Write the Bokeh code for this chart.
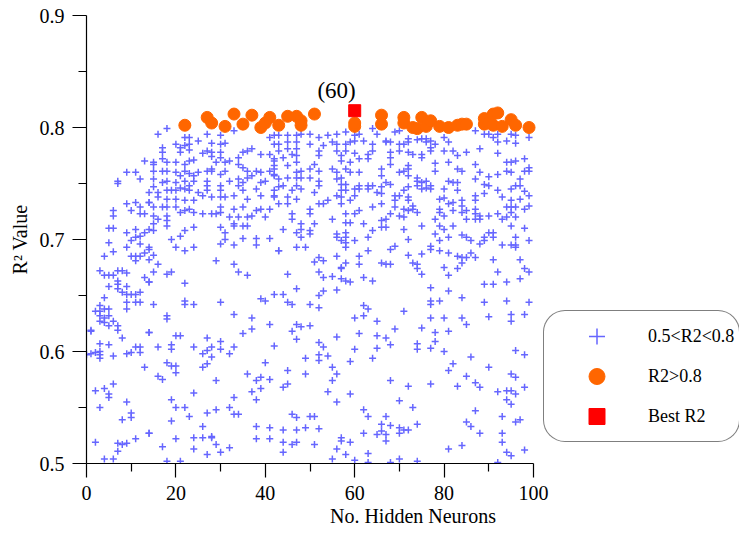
from bokeh.plotting import figure
from bokeh.models import Legend, LegendItem, FixedTicker, Range1d, Label
from bokeh.embed import file_html
from bokeh.resources import INLINE

# ---------------- data ----------------
# (No. hidden neurons, R2) pairs for runs with 0.5 < R2 < 0.8, grouped by x band
runs_00_14 = [(13,.770),(9,.760),(11,.760),(12,.754),(7,.752),(7,.750),(14,.742),(9,.732),(11,.733),(12,.729),
    (14,.733),(6,.726),(6,.721),(10,.726),(12,.723),(13,.723),(5,.710),(6,.710),(9,.706),(11,.709),
    (12,.703),(13,.706),(14,.709),(5,.697),(9,.693),(10,.699),(11,.702),(12,.696),(14,.693),(6,.689),
    (4,.685),(10,.685),(11,.685),(11,.681),(12,.685),(13,.688),(14,.682),(3,.672),(4,.668),(5,.668),
    (6,.668),(7,.672),(8,.672),(9,.670),(7,.663),(7,.660),(7,.656),(8,.653),(9,.658),(9,.651),
    (5,.658),(13,.666),(14,.662),(10,.651),(11,.651),(12,.653),(11,.644),(12,.644),(9,.644),(9,.638),
    (4,.648),(3,.641),(3,.636),(2,.636),(4,.638),(5,.638),(5,.632),(3,.632),(3,.627),(4,.630),
    (4,.626),(5,.623),(6,.627),(7,.623),(7,.619),(1,.618),(8,.612),(5,.606),(3,.607),(14,.617),
    (1,.598),(2,.599),(3,.600),(3,.594),(3,.597),(6,.596),(9,.598),(10,.599),(11,.604),(12,.604),
    (12,.599),(13,.586),(2,.565),(4,.567),(5,.562),(5,.559),(6,.571),(3,.550),(9,.555),(8,.539),
    (10,.545),(10,.541),(2,.519),(7,.518),(8,.517),(9,.518),(11,.522),(14,.527),(7,.511),(4,.504),
    (6,.504),(1,.619),(0,.597)]

runs_14_28 = [(16,.794),(18,.799),(22,.791),(23,.791),(27,.794),(25,.788),(28,.786),
    (17,.782),(20,.785),(21,.782),(22,.784),(23,.785),(17,.778),(21,.778),(23,.780),(26,.777),(27,.779),
    (15,.769),(15,.767),(17,.772),(18,.769),(20,.769),(22,.767),(23,.770),(24,.771),(28,.774),(28,.763),
    (15,.761),(17,.761),(18,.761),(20,.760),(21,.757),(22,.761),(23,.759),(24,.757),(25,.760),(27,.761),
    (15,.754),(17,.751),(18,.752),(20,.751),(21,.746),(22,.752),(23,.748),(24,.752),(27,.752),(27,.748),(27,.744),
    (15,.747),(16,.742),(18,.744),(19,.744),(20,.744),(22,.745),(23,.744),(25,.742),(28,.738),
    (14,.733),(16,.738),(18,.736),(20,.736),(22,.735),(24,.735),(26,.739),
    (15,.729),(17,.729),(18,.729),(20,.729),(21,.724),(22,.726),(23,.727),(24,.724),(26,.723),
    (15,.721),(16,.718),(18,.721),(18,.717),(18,.712),(15,.714),(15,.708),
    (19,.700),(21,.703),(22,.708),(24,.711),(20,.693),(22,.690),(24,.693),(14,.691),(15,.686),
    (16,.678),(15,.671),(18,.669),(19,.671),(14,.662),(22,.661),
    (15,.642),(22,.645),(22,.642),(24,.642),(18,.632),(18,.629),
    (14,.617),(20,.614),(21,.614),(27,.612),
    (16,.604),(19,.606),(19,.602),(24,.604),(26,.598),(27,.601),(28,.595),
    (18,.590),(19,.587),(20,.587),(20,.581),(27,.589),(26,.586),(16,.578),(17,.575),(24,.563),
    (19,.557),(20,.550),(22,.550),(19,.538),(23,.542),(27,.545),
    (26,.533),(14,.527),(17,.515),(20,.522),(24,.523),(26,.523),(28,.524),(24,.513),(27,.508),(18,.502),(21,.502)]

runs_28_42 = [(30,.793),(33,.797),(30,.785),(31,.786),(41,.791),(42,.793),(42,.785),
    (28,.778),(30,.778),(30,.773),(31,.769),(34,.773),(35,.778),(36,.779),(37,.781),(39,.776),(41,.776),(42,.770),(42,.766),
    (29,.769),(32,.770),(34,.767),(35,.764),(36,.761),(38,.761),(39,.760),(41,.761),(42,.763),
    (28,.761),(30,.758),(31,.761),(34,.754),(35,.751),(36,.755),(37,.757),(39,.751),(40,.752),(42,.758),
    (30,.748),(30,.744),(32,.752),(34,.748),(35,.744),(38,.745),(42,.744),(42,.739),
    (30,.738),(31,.738),(33,.739),(36,.736),(39,.739),
    (30,.729),(30,.724),(33,.727),(35,.729),(38,.726),(39,.727),(41,.727),(29,.723),(28,.723),
    (32,.720),(34,.720),(36,.720),(37,.721),(40,.720),
    (30,.711),(33,.714),(33,.712),(35,.712),(36,.712),(31,.706),
    (30,.696),(31,.700),(33,.695),(35,.701),(38,.701),(38,.695),(41,.701),
    (43,.690),(29,.681),(33,.678),(34,.671),(36,.668),
    (30,.644),(39,.647),(40,.645),(42,.651),
    (33,.633),(37,.630),(37,.620),(35,.616),(41,.624),(42,.605),
    (30,.609),(30,.602),(28,.604),(32,.598),(33,.604),(40,.590),
    (29,.574),(36,.580),(38,.574),(39,.577),(41,.575),(37,.564),(38,.557),(39,.567),
    (33,.559),(32,.550),(33,.544),(34,.544),(29,.548),
    (38,.533),(41,.532),(38,.522),(41,.522),
    (28,.523),(29,.517),(30,.510),(32,.514)]

runs_42_57 = [(43,.793),(45,.793),(43,.785),(45,.787),(47,.793),(47,.787),(48,.794),(50,.794),(52,.791),(54,.793),(56,.794),(56,.785),
    (43,.779),(45,.781),(46,.776),(47,.781),(47,.775),(50,.785),(52,.779),(53,.784),(55,.787),(56,.779),
    (42,.772),(44,.773),(45,.766),(47,.769),(48,.761),(50,.763),(51,.767),(52,.775),(52,.761),(55,.763),(57,.770),(56,.760),
    (42,.757),(43,.754),(45,.755),(47,.760),(47,.755),(48,.755),(50,.755),(52,.752),(56,.754),(57,.749),
    (43,.747),(44,.748),(46,.744),(47,.748),(48,.745),(51,.742),(52,.748),(42,.738),(45,.738),(47,.736),(56,.739),(57,.738),
    (43,.732),(45,.732),(52,.732),(53,.732),(54,.735),
    (46,.723),(46,.718),(48,.714),(50,.727),(50,.723),(48,.709),(50,.708),(51,.714),(55,.718),
    (44,.709),(47,.706),(48,.702),(50,.705),(56,.705),(56,.702),
    (47,.693),(49,.693),(56,.685),(57,.675),(52,.684),(51,.680),(53,.681),(43,.690),
    (45,.669),(52,.671),(53,.666),(55,.667),(57,.665),(56,.655),(47,.656),(53,.654),(52,.650),(44,.651),
    (45,.644),(46,.642),(50,.642),(52,.639),
    (47,.624),(48,.622),(46,.618),(50,.623),(47,.611),(56,.613),
    (52,.608),(53,.604),(52,.597),(52,.592),(54,.596),(49,.594),(49,.580),
    (55,.586),(56,.580),(55,.574),(54,.564),(56,.555),(45,.583),(45,.571),(44,.568),
    (46,.544),(47,.541),(50,.542),(51,.542),(44,.530),(47,.530),(49,.532),(52,.531),
    (44,.519),(46,.517),(47,.519),(51,.517),(44,.510),(57,.523),(56,.513),(55,.504)]

runs_57_71 = [(58,.796),(60,.793),(61,.794),(64,.799),(65,.794),(67,.788),(69,.796),(70,.797),(58,.785),(59,.787),
    (60,.788),(62,.788),(64,.785),(67,.787),(68,.787),(70,.785),(71,.785),
    (58,.779),(60,.777),(61,.772),(63,.776),(63,.772),(64,.779),(68,.778),(68,.773),(70,.779),(59,.769),(57,.775),
    (58,.763),(59,.760),(61,.760),(66,.763),(68,.767),(70,.760),(71,.761),(66,.757),
    (57,.755),(58,.749),(61,.748),(63,.748),(64,.748),(67,.751),(66,.747),(68,.749),(57,.744),(58,.744),
    (60,.745),(61,.745),(63,.745),(65,.742),(66,.741),(69,.739),(70,.739),(71,.744),
    (59,.735),(60,.739),(58,.723),(60,.723),(61,.726),(64,.729),(66,.732),(69,.735),(69,.729),(71,.727),(70,.721),(71,.720),
    (57,.732),(58,.715),(59,.715),(62,.714),(64,.708),(66,.717),(67,.718),(68,.723),(58,.706),(66,.711),(67,.711),
    (58,.702),(58,.697),(58,.693),(60,.699),(63,.702),(63,.690),(57,.699),(71,.709),(69,.694),(68,.691),
    (61,.685),(61,.678),(58,.679),(66,.679),(67,.678),(68,.678),(57,.674),
    (58,.663),(59,.662),(62,.666),(64,.663),
    (62,.641),(63,.638),(60,.630),(62,.632),(71,.636),(65,.627),(69,.620),(61,.616),(65,.614),(67,.612),(68,.606),
    (60,.602),(65,.603),(59,.591),(64,.594),(68,.574),(59,.562),
    (70,.556),(62,.548),(63,.542),(67,.542),(66,.535),(68,.534),(70,.532),(71,.530),(62,.527),(65,.526),
    (66,.529),(67,.526),(67,.520),(70,.527),(57,.520),(59,.519),
    (58,.508),(63,.509),(60,.503),(63,.501),(68,.501),(70,.504)]

runs_71_86 = [(72,.790),(74,.789),(75,.790),(76,.790),(76,.787),(77,.788),(78,.785),(80,.791),(81,.787),(72,.787),
    (72,.778),(73,.776),(75,.776),(77,.779),(77,.782),(80,.779),(82,.779),(83,.775),(85,.778),(75,.773),
    (72,.766),(72,.763),(78,.768),(78,.761),(81,.769),(83,.763),(84,.761),(72,.757),(74,.755),(74,.752),
    (75,.751),(76,.752),(76,.746),(77,.748),(77,.745),(81,.752),(82,.751),(83,.751),(83,.744),(75,.745),(74,.748),(72,.747),
    (80,.745),(79,.736),(80,.737),(72,.738),(72,.735),(73,.730),(74,.724),(79,.727),(79,.724),(81,.732),
    (82,.733),(84,.735),(84,.730),(85,.726),(72,.726),(73,.727),
    (80,.721),(82,.726),(84,.724),(85,.718),(78,.718),(79,.712),(80,.709),(81,.702),(82,.712),(84,.704),
    (85,.702),(75,.712),(78,.705),(79,.699),
    (72,.700),(77,.694),(77,.691),(79,.690),(81,.688),(83,.685),(84,.684),(85,.684),(75,.687),(72,.686),
    (73,.679),(74,.678),(74,.674),(75,.669),(80,.675),(81,.668),(83,.674),(84,.679),
    (77,.657),(77,.645),(77,.642),(79,.645),(81,.654),(84,.648),(77,.630),(80,.630),(84,.630),(85,.624),
    (75,.621),(78,.617),(81,.618),
    (74,.607),(74,.602),(77,.603),(78,.609),(80,.600),(82,.589),(81,.583),(85,.578),(72,.569),(77,.571),
    (83,.569),(73,.550),(74,.535),(72,.530),(85,.537),(81,.513),(84,.516),(74,.502)]

runs_86_99 = [(87,.797),(89,.794),(90,.794),(91,.791),(92,.794),(95,.794),(96,.793),(99,.791),(92,.787),(94,.788),(96,.786),
    (88,.781),(92,.777),(87,.767),(88,.760),(87,.754),(90,.756),(92,.758),(94,.769),(94,.761),(95,.769),
    (96,.770),(98,.772),(99,.764),(99,.761),(98,.761),(95,.760),
    (89,.749),(89,.741),(90,.748),(92,.744),(93,.738),(87,.739),(87,.735),(95,.745),(96,.748),(97,.754),
    (97,.748),(98,.743),(99,.739),(97,.736),(95,.735),(94,.729),(95,.729),(96,.729),(98,.727),(99,.730),(87,.727),
    (87,.723),(87,.718),(88,.721),(88,.718),(90,.721),(92,.723),(93,.718),(94,.720),(95,.724),(96,.720),
    (95,.712),(98,.710),(90,.706),(91,.706),(91,.702),(89,.702),(89,.699),(88,.696),(86,.699),
    (93,.695),(95,.695),(96,.695),(96,.702),(96,.693),(99,.699),(86,.688),(87,.684),(91,.682),(92,.671),
    (97,.682),(98,.674),(99,.671),(97,.665),(89,.660),(91,.660),(94,.662),(89,.644),(94,.645),(99,.644),
    (90,.631),(95,.633),(95,.627),(98,.633),(96,.601),(98,.597),(86,.595),(90,.586),(95,.580),(96,.577),
    (87,.572),(88,.568),(92,.564),(94,.565),(95,.565),(96,.562),(98,.568),(94,.557),(95,.553),(87,.547),
    (93,.542),(96,.537),(97,.539),(86,.533),(88,.527),(93,.527),(93,.519),(94,.510),(95,.507),(98,.512),(92,.501)]

# runs with R2 > 0.8
good_x = [22, 27, 28, 31, 33, 35, 37, 39, 40, 41, 43, 45, 47, 48, 48, 51, 60, 60, 66, 66, 71, 71,
          73, 74, 75, 76, 77, 79, 81, 83, 84, 85, 89, 89, 90, 91, 91, 92, 93, 95, 96, 99]
good_r2 = [0.802, 0.809, 0.804, 0.801, 0.812, 0.803, 0.811, 0.800, 0.804, 0.809, 0.802, 0.810,
           0.810, 0.806, 0.802, 0.812, 0.801, 0.804, 0.811, 0.803, 0.809, 0.804, 0.800, 0.799,
           0.809, 0.801, 0.806, 0.801, 0.800, 0.802, 0.803, 0.803, 0.808, 0.803, 0.804, 0.812,
           0.802, 0.813, 0.801, 0.807, 0.802, 0.800]

# best run
best_x = [60]
best_r2 = [0.815]

x_ticks = [0, 20, 40, 60, 80, 100]
y_ticks = [0.5, 0.6, 0.7, 0.8, 0.9]

# ---------------- assemble ----------------
all_runs = runs_00_14 + runs_14_28 + runs_28_42 + runs_42_57 + runs_57_71 + runs_71_86 + runs_86_99
mid_x = [a for a, b in all_runs]
mid_r2 = [b for a, b in all_runs]

FONT = "Liberation Serif"

# The frame spans the full width so that the legend (right of the axis) is not clipped;
# the x axis itself is bounded to 0..100.
LEFT, AXIS_RIGHT, W = 86, 533, 739
x_end = 100 * (W - LEFT) / (AXIS_RIGHT - LEFT)

p = figure(width=W, height=533, output_backend="svg", toolbar_location=None,
           x_range=Range1d(0, x_end), y_range=Range1d(0.5, 0.9),
           min_border_left=LEFT, min_border_right=0, min_border_top=15, min_border_bottom=70,
           background_fill_color="white", border_fill_color="white")
p.grid.visible = False
p.outline_line_color = None

r_mid = p.scatter(mid_x, mid_r2, marker="cross", size=7, line_color="#6666ff", line_width=1.5)
r_good = p.scatter(good_x, good_r2, marker="circle", size=12, fill_color="#ff6600", line_color="#ff6600")
r_best = p.scatter(best_x, best_r2, marker="square", size=12, fill_color="#ff0000", line_color="#ff0000")

p.add_layout(Label(x=best_x[0], y=best_r2[0], text="(%d)" % best_x[0],
                   text_font=FONT, text_font_size="23px", text_color="black",
                   text_align="right", text_baseline="bottom", x_offset=1, y_offset=8))

p.xaxis.ticker = FixedTicker(ticks=x_ticks, minor_ticks=[10, 30, 50, 70, 90])
p.yaxis.ticker = FixedTicker(ticks=y_ticks, minor_ticks=[0.55, 0.65, 0.75, 0.85])
p.xaxis.bounds = (0, 100)
p.xaxis.axis_label = "No. Hidden Neurons"
p.yaxis.axis_label = "R\u00b2 Value"
for ax in (p.xaxis, p.yaxis):
    ax.axis_label_text_font = FONT
    ax.axis_label_text_font_size = "20px"
    ax.axis_label_text_font_style = "normal"
    ax.axis_label_text_color = "black"
    ax.major_label_text_font = FONT
    ax.major_label_text_font_size = "20px"
    ax.major_label_text_color = "black"
    ax.axis_line_color = "black"
    ax.axis_line_width = 1.2
    ax.major_tick_line_color = "black"
    ax.minor_tick_line_color = "black"
    ax.major_tick_line_width = 1.2
    ax.minor_tick_line_width = 1.2
    ax.major_tick_out = 14
    ax.major_tick_in = 0
    ax.minor_tick_out = 8
    ax.minor_tick_in = 0
p.xaxis.major_label_standoff = 8
p.xaxis.axis_label_standoff = 2
p.yaxis.major_label_standoff = 8
p.yaxis.axis_label_standoff = 6

legend = Legend(items=[LegendItem(label="0.5<R2<0.8", renderers=[r_mid]),
                       LegendItem(label="R2>0.8", renderers=[r_good]),
                       LegendItem(label="Best R2", renderers=[r_best])],
                location=(AXIS_RIGHT - LEFT + 10, 21), margin=0, padding=5,
                glyph_width=95, glyph_height=40, spacing=0, label_standoff=4,
                label_text_font=FONT, label_text_font_size="18px", label_text_color="black",
                border_line_color="black", border_line_width=1,
                background_fill_color="white", background_fill_alpha=1.0)
if "border_radius" in Legend.properties():
    legend.border_radius = 22
p.add_layout(legend)

open("out.html", "w").write(file_html(p, INLINE))
